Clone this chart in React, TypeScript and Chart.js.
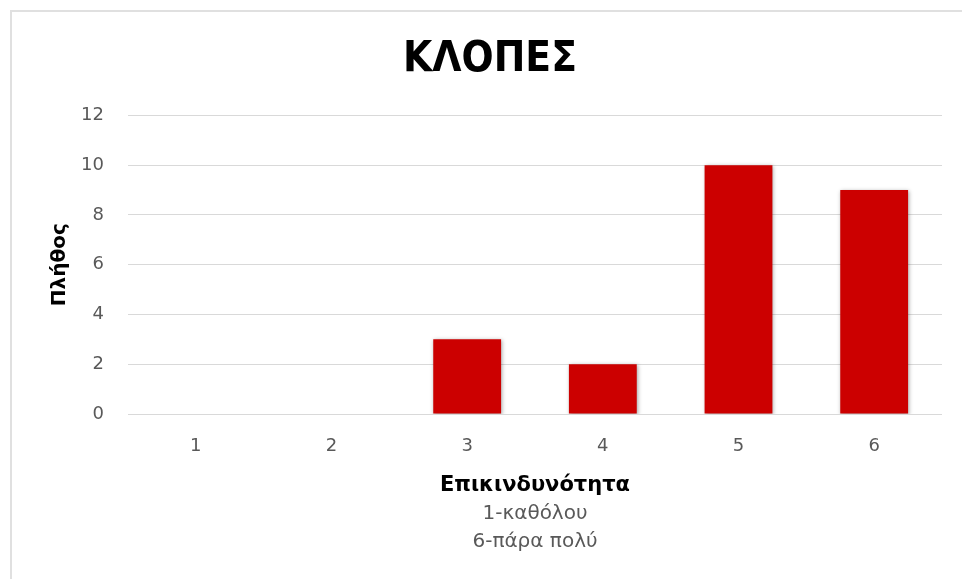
import React, { useEffect, useRef } from "react";
import { Chart, registerables } from "chart.js";

Chart.register(...registerables);

const categories = ["1", "2", "3", "4", "5", "6"];
const counts = [0, 0, 3, 2, 10, 9];
const chartTitle = "ΚΛΟΠΕΣ";
const yAxisTitle = "Πλήθος";
const xAxisTitle = "Επικινδυνότητα";
const xAxisNotes = ["1-καθόλου", "6-πάρα πολύ"];

const FONT = "'DejaVu Sans', sans-serif";
const TITLE_FONT = "'DejaVu Sans Condensed', 'DejaVu Sans', sans-serif";

const shadowPlugin = {
  id: "barShadow",
  beforeDatasetsDraw(chart: any) {
    const ctx = chart.ctx;
    ctx.save();
    ctx.shadowColor = "rgba(0,0,0,0.35)";
    ctx.shadowBlur = 4;
    ctx.shadowOffsetX = 1;
    ctx.shadowOffsetY = 1;
  },
  afterDatasetsDraw(chart: any) {
    chart.ctx.restore();
  },
};

const notesPlugin = {
  id: "xNotes",
  afterDraw(chart: any) {
    const ctx = chart.ctx;
    const { left, right } = chart.chartArea;
    const cx = (left + right) / 2;
    ctx.save();
    ctx.font = `20px ${FONT}`;
    ctx.fillStyle = "#595959";
    ctx.textAlign = "center";
    ctx.textBaseline = "middle";
    const ys = [514, 542];
    xAxisNotes.forEach((t, i) => ctx.fillText(t, cx, ys[i]));
    ctx.restore();
  },
};

export default function App() {
  const ref = useRef<HTMLCanvasElement>(null);
  useEffect(() => {
    if (!ref.current) return;
    const chart = new Chart(ref.current, {
      type: "bar",
      data: {
        labels: categories,
        datasets: [
          {
            data: counts,
            backgroundColor: "#CC0000",
            borderWidth: 0,
            barPercentage: 0.5,
            categoryPercentage: 1,
          },
        ],
      },
      options: {
        responsive: false,
        animation: false,
        devicePixelRatio: 1,
        layout: { padding: { left: 38, right: 20, top: 0, bottom: 0 } },
        plugins: {
          legend: { display: false },
          tooltip: { enabled: false },
          title: {
            display: true,
            text: chartTitle,
            color: "#000000",
            font: { family: TITLE_FONT, size: 42, weight: "bold" },
            padding: { top: 35, bottom: 30 },
          },
        },
        scales: {
          x: {
            grid: { display: false, drawTicks: false },
            border: { display: false },
            ticks: {
              color: "#595959",
              font: { family: FONT, size: 18 },
              padding: 22,
            },
            title: {
              display: true,
              text: xAxisTitle,
              color: "#000000",
              font: { family: FONT, size: 21, weight: "bold" },
              padding: { top: 0, bottom: 81 },
            },
            afterFit(scale: any) {
              scale.height = 165;
            },
          },
          y: {
            min: 0,
            max: 12,
            grid: { color: "#d9d9d9", lineWidth: 1, drawTicks: false },
            border: { display: false },
            ticks: {
              stepSize: 2,
              color: "#595959",
              font: { family: FONT, size: 18 },
              padding: 24,
            },
            title: {
              display: true,
              text: yAxisTitle,
              color: "#000000",
              font: { family: FONT, size: 20, weight: "bold" },
              padding: { top: 10, bottom: 8 },
            },
            afterFit(scale: any) {
              scale.width = 90;
            },
          },
        },
      },
      plugins: [shadowPlugin, notesPlugin],
    });
    return () => chart.destroy();
  }, []);

  return (
    <div
      style={{
        position: "fixed",
        left: 0,
        top: 0,
        width: 962,
        height: 579,
        overflow: "hidden",
        background: "#ffffff",
      }}
    >
      <div
        style={{
          position: "absolute",
          left: 10,
          top: 10,
          width: 1000,
          height: 700,
          borderTop: "2px solid #e0e0e0",
          borderLeft: "2px solid #e0e0e0",
        }}
      />
      <canvas
        ref={ref}
        width={962}
        height={579}
        style={{ position: "absolute", left: 0, top: 0, width: 962, height: 579 }}
      />
    </div>
  );
}
